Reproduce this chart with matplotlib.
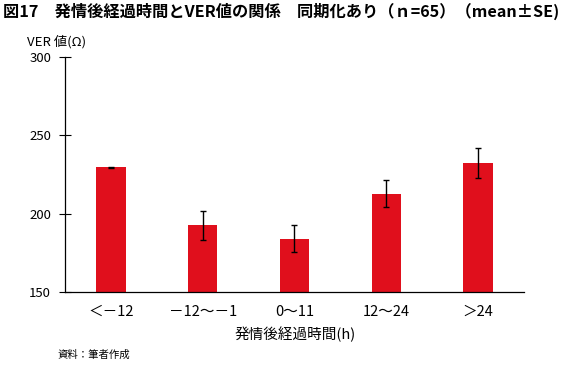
import matplotlib
matplotlib.use("Agg")
import matplotlib.pyplot as plt

plt.rcParams['font.family'] = ['Noto Sans CJK JP', 'DejaVu Sans']

categories = ["＜－12", "－12～－1", "0～11", "12～24", "＞24"]
means = [229.7, 192.5, 184.0, 212.8, 232.5]
se = [0.3, 9.0, 8.6, 8.7, 9.6]
yticks = [150, 200, 250, 300]

fig = plt.figure(figsize=(5.73, 3.65), dpi=100)
ax = fig.add_axes([0.1134, 0.2, 0.8011, 0.6438])
x = range(len(categories))
ax.bar(x, means, width=0.32, color="#E00F1C", yerr=se,
       error_kw=dict(ecolor="black", elinewidth=1.0, capsize=2.3, capthick=1.0))
ax.set_xlim(-0.5, 4.5)
ax.set_ylim(150, 300)
ax.set_yticks(yticks)
ax.set_xticks(list(x))
ax.set_xticklabels(categories, fontsize=10.5)
ax.tick_params(axis='x', length=0, pad=9)
ax.tick_params(axis='y', direction='inout', length=8, width=0.8, labelsize=9.5, pad=6)
for s in ['top', 'right']:
    ax.spines[s].set_visible(False)
for s in ['left', 'bottom']:
    ax.spines[s].set_linewidth(0.9)

fig.text(0.005, 0.968, "図17　発情後経過時間とVER値の関係　同期化あり（ｎ=65）（mean±SE)",
         fontsize=11.7, fontweight='bold', va='center', ha='left')
fig.text(0.047, 0.885, "VER 値(Ω)", fontsize=9.5, va='center', ha='left')
fig.text(0.515, 0.085, "発情後経過時間(h)", fontsize=10.5, va='center', ha='center')
fig.text(0.1, 0.027, "資料：筆者作成", fontsize=7.5, va='center', ha='left')

fig.savefig("out.png", dpi=100)
